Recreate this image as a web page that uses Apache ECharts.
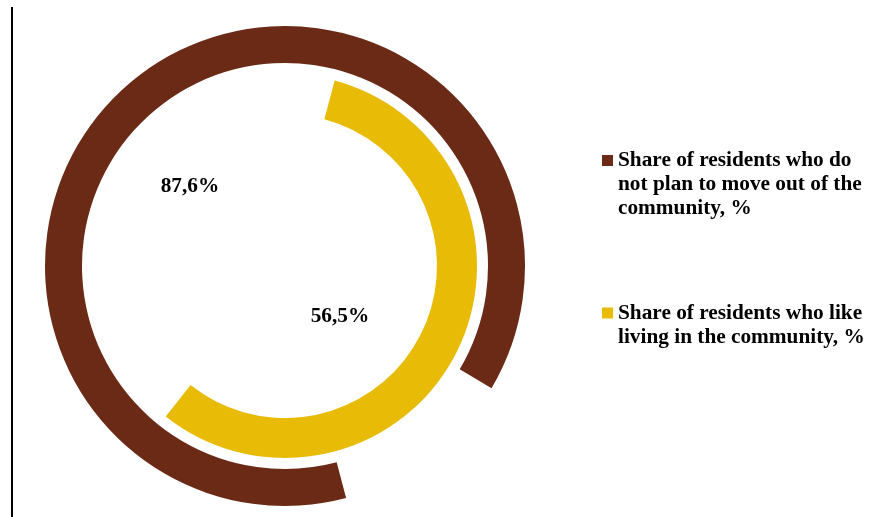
<!DOCTYPE html>
<html><head><meta charset="utf-8">
<script src="https://cdn.jsdelivr.net/npm/echarts@6/dist/echarts.min.js"></script>
<style>html,body{margin:0;padding:0;background:#fff}#c{width:876px;height:517px}</style>
</head><body><div id="c"></div>
<script>
const seriesNames = [
  'Share of residents who do not plan to move out of the community, %',
  'Share of residents who like living in the community, %'
];
const legendLines = [
  ['Share of residents who do', 'not plan to move out of the', 'community, %'],
  ['Share of residents who like', 'living in the community, %']
];
const values = [87.6, 56.5];
const colors = ['#6B2A16', '#E8BB06'];
const startAngles = [-75.25, 75];

const CX = 285, CY = 266;
const radii = [[203, 240], [152, 192]];
const labelPos = [[190, 186], [340, 316]];
const font = 'Liberation Serif';

function fmt(v) { return v.toFixed(1).replace('.', ',') + '%'; }
// pad with empty lines on top so the icon lines up with the first text line
function legendText(lines) {
  return '\n'.repeat(lines.length - 1) + lines.join('\n');
}

const chart = echarts.init(document.getElementById('c'), null, {renderer: 'canvas'});
const option = {
  animation: false,
  backgroundColor: '#fff',
  polar: radii.map(r => ({center: [CX, CY], radius: r})),
  angleAxis: values.map((v, i) => ({
    polarIndex: i, type: 'value', min: 0, max: 100,
    startAngle: startAngles[i], clockwise: true, show: false
  })),
  radiusAxis: values.map((v, i) => ({
    polarIndex: i, type: 'category', data: [''], show: false
  })),
  legend: [0, 1].map(i => ({
    data: [seriesNames[i]],
    orient: 'vertical',
    left: 602,
    top: i === 0 ? 100.5 : 277,
    padding: 0,
    itemWidth: 11, itemHeight: 11,
    icon: 'rect',
    selectedMode: false,
    formatter: () => legendText(legendLines[i]),
    textStyle: {
      fontFamily: font, fontWeight: 'bold', fontSize: 21.3, lineHeight: 24,
      color: '#000'
    }
  })),
  series: values.map((v, i) => ({
    type: 'bar',
    name: seriesNames[i],
    coordinateSystem: 'polar',
    polarIndex: i,
    data: [v],
    barWidth: '100%',
    itemStyle: {color: colors[i]},
    silent: true
  })),
  graphic: [
    {type: 'line', shape: {x1: 12, y1: 7, x2: 12, y2: 517}, style: {stroke: '#000', lineWidth: 2}},
    ...values.map((v, i) => ({
      type: 'text', x: labelPos[i][0], y: labelPos[i][1],
      style: {text: fmt(v), fontFamily: font, fontWeight: 'bold', fontSize: 21.3,
        fill: '#000', align: 'center', verticalAlign: 'middle'}
    }))
  ]
};
chart.setOption(option);
</script>
</body></html>
